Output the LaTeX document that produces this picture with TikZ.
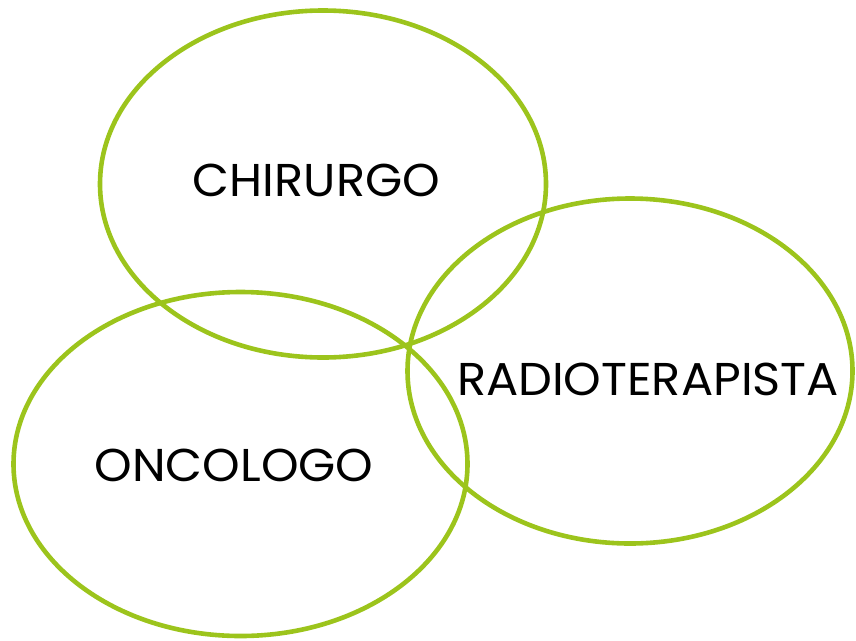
\documentclass[tikz,border=0pt]{standalone}
\usepackage{fontspec}
\setmainfont{Poppins}
\definecolor{ringgreen}{HTML}{9CC41C}
\begin{document}
\begin{tikzpicture}[x=1pt,y=-1pt,
  ring/.style={draw=ringgreen,line width=4.6pt},
  lbl/.style={font=\fontsize{46}{46}\selectfont,text=black,inner sep=0pt,anchor=base,xscale=1.04}]
\useasboundingbox (0,0) rectangle (856,640);
\draw[ring] (323,184) ellipse [x radius=223, y radius=173.5];
\draw[ring] (240.5,464) ellipse [x radius=227, y radius=172];
\draw[ring] (630,371) ellipse [x radius=222.5, y radius=172.5];
\node[lbl] (chir) at (316.5,196) {CHIRURGO};
\node[lbl] (onco) at (234,481) {ONCOLOGO};
\node[lbl] (radio) at (648,395) {RADIOTERAPISTA};
\end{tikzpicture}
\end{document}
